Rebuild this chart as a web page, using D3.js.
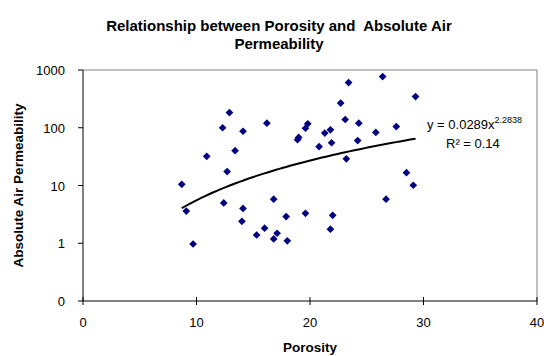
<!DOCTYPE html>
<html>
<head>
<meta charset="utf-8">
<script src="https://cdn.jsdelivr.net/npm/d3@7"></script>
<style>
  body { margin: 0; background: #fff; }
  text { font-family: "Liberation Sans", Arial, sans-serif; fill: #000; }
</style>
</head>
<body>
<div id="chart"></div>
<script>
// porosity (%) vs absolute air permeability
const porosity = [
    8.7, 9.1, 9.7, 10.9, 12.3, 12.4, 12.7, 12.9, 13.4, 14.0, 14.1, 14.1,
    15.3, 16.0, 16.2, 16.8, 16.8, 17.1, 17.9, 18.0, 18.9, 19.0, 19.6, 19.6,
    19.8, 20.8, 21.3, 21.8, 21.8, 21.9, 22.0, 22.7, 23.1, 23.2, 23.4, 24.2,
    24.3, 25.8, 26.4, 26.7, 27.6, 28.5, 29.1, 29.3
];
const permeability = [
    10.5, 3.6, 0.97, 32, 100, 5.0, 17.4, 183, 40, 2.4, 4.0, 87,
    1.39, 1.82, 120, 5.8, 1.19, 1.49, 2.9, 1.1, 62, 68, 3.3, 98,
    117, 47, 81, 92, 1.75, 55, 3.05, 268, 139, 29, 605, 60,
    120, 83, 770, 5.8, 105, 16.7, 10.1, 347
];

// power trendline from the chart
const trendA = 0.0289;
const trendB = 2.2838;
const trendLabel = 'R\u00b2 = 0.14';

const xTicks = [0, 10, 20, 30, 40];
const yTicks = [0.1, 1, 10, 100, 1000];
const yTickLabels = ['0', '1', '10', '100', '1000'];

const width = 544, height = 356;
const margin = {left: 83, right: 7, top: 70, bottom: 55};

const svg = d3.select('#chart').append('svg')
    .attr('width', width)
    .attr('height', height);

const x = d3.scaleLinear()
    .domain([0, 40])
    .range([margin.left, width - margin.right]);

const y = d3.scaleLog()
    .domain([0.1, 1000])
    .range([height - margin.bottom, margin.top]);

// plot area frame (top and right are grey in Excel)
svg.append('path')
    .attr('d', `M${x(0)},${y(1000)}H${x(40)}V${y(0.1)}`)
    .attr('fill', 'none')
    .attr('stroke', '#808080')
    .attr('stroke-width', 1);

// x axis with crossing ticks
const gx = svg.append('g');
gx.append('line')
    .attr('x1', x(0)).attr('x2', x(40))
    .attr('y1', y(0.1)).attr('y2', y(0.1))
    .attr('stroke', '#000');
gx.selectAll('line.tick').data(xTicks).join('line')
    .attr('class', 'tick')
    .attr('x1', d => x(d)).attr('x2', d => x(d))
    .attr('y1', y(0.1) - 4).attr('y2', y(0.1) + 4)
    .attr('stroke', '#000');
gx.selectAll('text').data(xTicks).join('text')
    .attr('x', d => x(d))
    .attr('y', y(0.1) + 26)
    .attr('text-anchor', 'middle')
    .attr('font-size', 13)
    .text(d => d);

// y axis
const gy = svg.append('g');
gy.append('line')
    .attr('x1', x(0)).attr('x2', x(0))
    .attr('y1', y(0.1)).attr('y2', y(1000))
    .attr('stroke', '#000');
gy.selectAll('line.tick').data(yTicks).join('line')
    .attr('class', 'tick')
    .attr('x1', x(0) - 5).attr('x2', x(0))
    .attr('y1', d => y(d)).attr('y2', d => y(d))
    .attr('stroke', '#000');
gy.selectAll('text').data(yTicks).join('text')
    .attr('x', x(0) - 18)
    .attr('y', d => y(d) + 5)
    .attr('text-anchor', 'end')
    .attr('font-size', 13)
    .text((d, i) => yTickLabels[i]);

// points
const points = porosity.map((p, i) => ({p: p, k: permeability[i]}));
svg.append('g').selectAll('path').data(points).join('path')
    .attr('d', d3.symbol(d3.symbolDiamond2, 38))
    .attr('transform', d => `translate(${x(d.p)},${y(d.k)})`)
    .attr('fill', '#000080');

// trendline over the data range
const xMin = d3.min(porosity), xMax = d3.max(porosity);
const trend = d3.range(0, 61).map(i => {
    const px = xMin + (xMax - xMin) * i / 60;
    return [px, trendA * Math.pow(px, trendB)];
});
svg.append('path')
    .datum(trend)
    .attr('d', d3.line().x(d => x(d[0])).y(d => y(d[1])))
    .attr('fill', 'none')
    .attr('stroke', '#000')
    .attr('stroke-width', 2);

// equation label
const eq = svg.append('text')
    .attr('x', 427)
    .attr('y', 129)
    .attr('font-size', 13);
eq.append('tspan').text('y = ' + trendA + 'x');
eq.append('tspan').attr('dy', -6).attr('font-size', 9).text(trendB);
svg.append('text')
    .attr('x', 446)
    .attr('y', 148)
    .attr('font-size', 13)
    .text(trendLabel);

// titles
svg.append('text')
    .attr('x', 279).attr('y', 31)
    .attr('text-anchor', 'middle')
    .attr('font-size', 15).attr('font-weight', 'bold')
    .attr('xml:space', 'preserve')
    .text('Relationship between Porosity and  Absolute Air');
svg.append('text')
    .attr('x', 279).attr('y', 49)
    .attr('text-anchor', 'middle')
    .attr('font-size', 15).attr('font-weight', 'bold')
    .text('Permeability');

svg.append('text')
    .attr('x', (x(0) + x(40)) / 2).attr('y', 352)
    .attr('text-anchor', 'middle')
    .attr('font-size', 13.5).attr('font-weight', 'bold')
    .text('Porosity');

svg.append('text')
    .attr('transform', `translate(23,${(y(0.1) + y(1000)) / 2}) rotate(-90)`)
    .attr('text-anchor', 'middle')
    .attr('font-size', 13.5).attr('font-weight', 'bold')
    .text('Absolute Air Permeability');
</script>
</body>
</html>
